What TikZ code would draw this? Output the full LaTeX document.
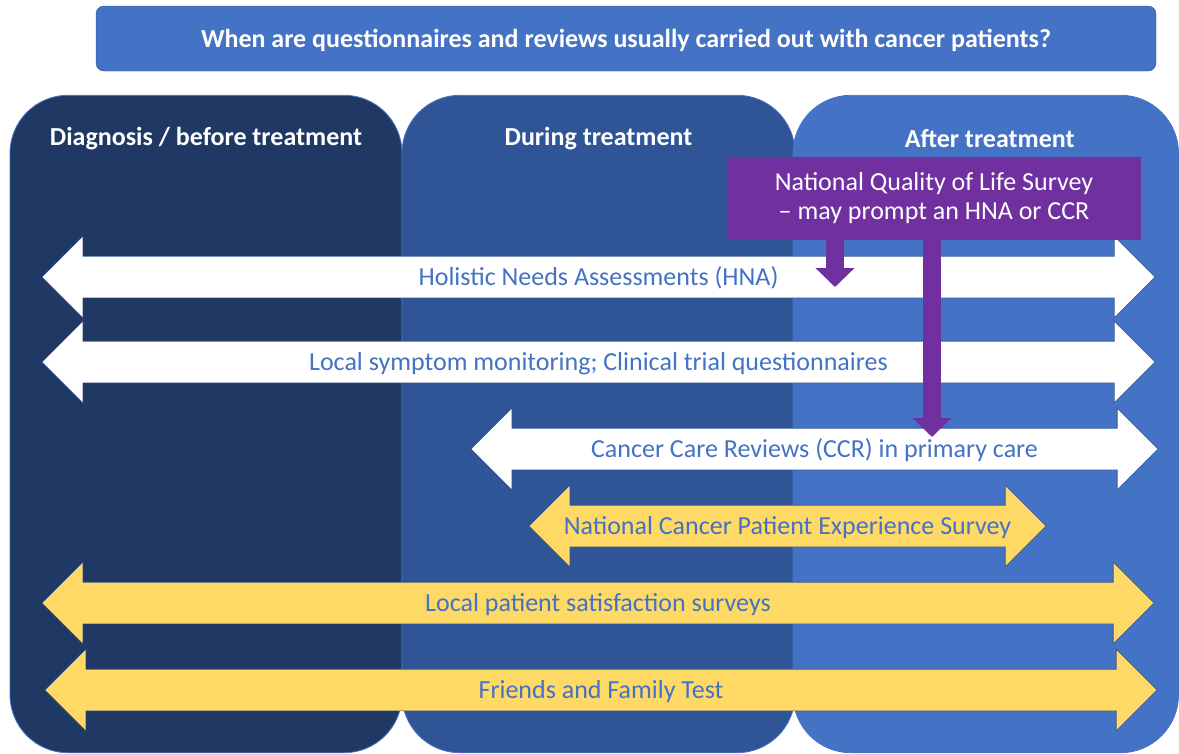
\documentclass[tikz,border=0pt]{standalone}
\usepackage{fontspec}
\setmainfont{Carlito}
\usepackage{xcolor}
\usepackage{tikz}
\usetikzlibrary{positioning}
\usetikzlibrary{calc,shapes.arrows,arrows.meta}

\definecolor{navy}{HTML}{203864}
\definecolor{midblue}{HTML}{2F5597}
\definecolor{lightblue}{HTML}{4472C4}
\definecolor{edgeblue}{HTML}{2F528F}
\definecolor{qolpurple}{HTML}{7030A0}
\definecolor{surveyyellow}{HTML}{FFD966}

\tikzset{
	phase/.style={draw=lightblue, line width=0.8pt, rounded corners=58pt, inner sep=0pt},
	phasetitle/.style={text=white, font=\bfseries\fontsize{26}{30}\selectfont},
	band/.style={double arrow, double arrow head extend=20pt, minimum width=81pt,
		inner sep=0pt, text height=28.9pt, text depth=12.1pt,
		draw=edgeblue, line width=0.6pt, text=lightblue,
		font=\fontsize{26}{30}\selectfont},
	prompt/.style={draw=qolpurple, line width=18pt, -{Triangle[width=38pt,length=19pt]}},
}

\begin{document}
\begin{tikzpicture}[x=1pt,y=-1pt]
	
	\useasboundingbox (0,0) rectangle (1179,753);
	
	% QUESTION ACROSS THE TOP
	\node[draw=edgeblue, fill=lightblue, rounded corners=8pt, minimum width=1060pt,
		minimum height=65pt, text height=24.7pt, text depth=6pt, phasetitle] (question) at (626,38.5)
		{When are questionnaires and reviews usually carried out with cancer patients?};
	
	%%%%%%%%%%%%%%%%%%%%%%%%%%%%%%%%%%%%%%%%%%%%%%%%%%%%%%%%%%%%%%
	% THE THREE PHASES, left to right
	\node[phase, fill=navy, minimum width=392pt, minimum height=657.5pt] (diag) at (206,424) {};
	\node[phase, fill=midblue, minimum width=393pt, minimum height=657.5pt] (during) at (598.5,424) {};
	\node[phase, fill=lightblue, minimum width=385.5pt, minimum height=657.5pt] (after) at (985.75,424) {};
	
	\node[phasetitle] (diagtitle) at ([yshift=-44pt]diag.north) {Diagnosis / before treatment};
	\node[phasetitle] (duringtitle) at ([yshift=-44pt]during.north) {During treatment};
	\node[phasetitle] (aftertitle) at ([xshift=4pt,yshift=-44pt]after.north) {After treatment};
	
	%%%%%%%%%%%%%%%%%%%%%%%%%%%%%%%%%%%%%%%%%%%%%%%%%%%%%%%%%%%%%%
	% reviews and questionnaires (white)
	\node[band, fill=white, minimum height=1113pt] (hna) at (598.5,277)
		{Holistic Needs Assessments (HNA)};
	\node[band, fill=white, minimum height=1113pt] (symptom) at (598.5,362)
		{Local symptom monitoring; Clinical trial questionnaires};
	\node[band, fill=white, minimum height=687pt] (ccr) at (814.5,449)
		{Cancer Care Reviews (CCR) in primary care};
	
	% surveys (yellow)
	\node[band, fill=surveyyellow, minimum height=517pt] (ncpes) at (787.5,526)
		{National Cancer Patient Experience Survey};
	\node[band, fill=surveyyellow, minimum height=1112pt] (satisfaction) at (598,603)
		{Local patient satisfaction surveys};
	\node[band, fill=surveyyellow, minimum height=1112pt] (fft) at (601,690)
		{Friends and Family Test};
	
	%%%%%%%%%%%%%%%%%%%%%%%%%%%%%%%%%%%%%%%%%%%%%%%%%%%%%%%%%%%%%%
	% QUALITY OF LIFE SURVEY AND WHAT IT PROMPTS
	\coordinate (hnatip) at (835,287);
	\coordinate (ccrtip) at (932,437);
	
	\node[fill=qolpurple, minimum width=414pt, minimum height=83pt, inner sep=0pt,
		text=white, align=center, font=\fontsize{26}{29}\selectfont] (qol) at (934,198.5)
		{National Quality of Life Survey\\ -- may prompt an HNA or CCR};
	
	\draw[prompt] ([yshift=1pt]qol.south -| hnatip) -- (hnatip);
	\draw[prompt] ([yshift=1pt]qol.south -| ccrtip) -- (ccrtip);
	
\end{tikzpicture}
\end{document}
